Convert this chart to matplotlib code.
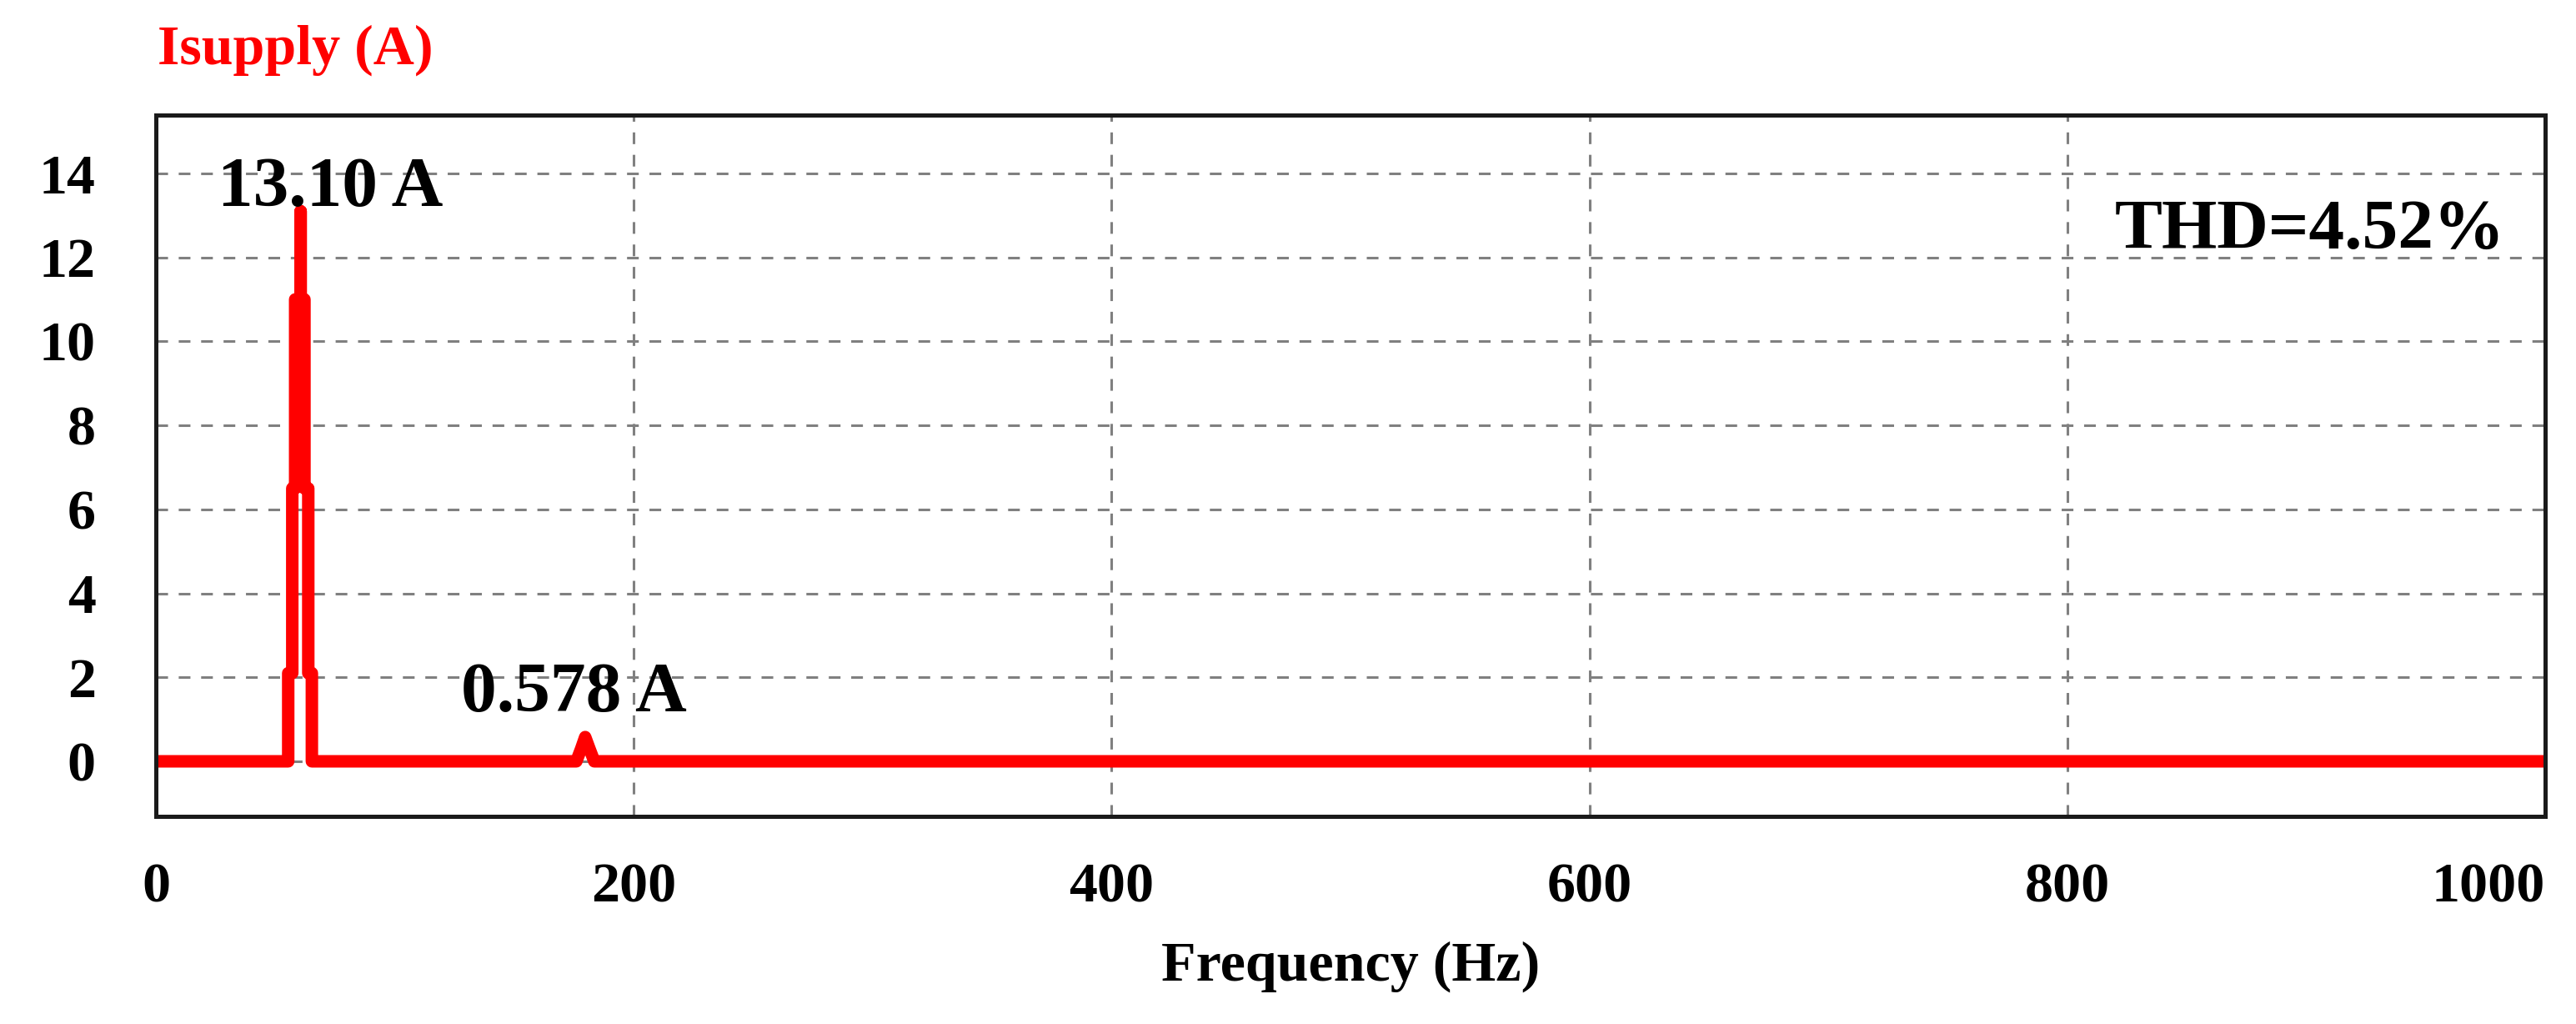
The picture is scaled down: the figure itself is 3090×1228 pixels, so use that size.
import numpy as np
import matplotlib
matplotlib.use("Agg")
import matplotlib.pyplot as plt

# FFT of supply current (Hz, A)
freq_hz = [0, 55.4, 55.4, 57.1, 57.1, 58.3, 58.3, 60.6, 60.6, 60.6, 62.2, 62.2,
           63.8, 63.8, 65.3, 65.3, 176.0, 178.0, 179.7, 181.5, 183.5, 1000]
amp_a = [0, 0, 2.1, 2.1, 6.5, 6.5, 11.0, 11.0, 13.1, 11.0, 11.0, 6.5,
         6.5, 2.1, 2.1, 0, 0, 0.3, 0.578, 0.3, 0, 0]

x_ticks = [0, 200, 400, 600, 800, 1000]
y_ticks = [0, 2, 4, 6, 8, 10, 12, 14]

fund_label = "13.10 A"
h3_label = "0.578 A"
thd_label = "THD=4.52%"

plt.rcParams['font.family'] = ['Liberation Serif', 'DejaVu Serif']
plt.rcParams['font.weight'] = 'bold'

fig = plt.figure(figsize=(30.9, 12.28), dpi=100)
ax = fig.add_axes([0.0605, 0.2028, 0.9275, 0.6848])

ax.plot(freq_hz, amp_a, color='#ff0000', lw=10.8,
        solid_joinstyle='round', solid_capstyle='butt', zorder=3)

ax.set_xlim(0, 1000)
ax.set_ylim(-1.31, 15.39)
ax.set_xticks(x_ticks)
ax.set_yticks(y_ticks)
ax.tick_params(axis='both', length=0, labelsize=49)
ax.tick_params(axis='y', pad=52)
ax.tick_params(axis='x', pad=40)
# last x label sits flush with the right edge, as in the original
ax.get_xticklabels()[-1].set_horizontalalignment('right')
for lab in ax.get_xticklabels() + ax.get_yticklabels():
    lab.set_fontweight('bold')

ax.set_axisbelow(True)
ax.grid(True, color='#808080', lw=2.2, linestyle=(0, (4.6, 4.2)))

for s in ax.spines.values():
    s.set_linewidth(3.6)
    s.set_color('#1a1a1a')
    s.set_zorder(4)

ax.set_xlabel("Frequency (Hz)", fontsize=49, fontweight='bold', labelpad=24)

ax.text(26, 13.22, fund_label, fontsize=61.5, fontweight='bold',
        ha='left', va='baseline', zorder=5)
ax.text(127.7, 1.19, h3_label, fontsize=61.5, fontweight='bold',
        ha='left', va='baseline', zorder=5)
ax.text(820, 12.21, thd_label, fontsize=61.5, fontweight='bold',
        ha='left', va='baseline', zorder=5)

fig.text(189 / 3090, 1 - 77 / 1228, "Isupply (A)", color='#ff0000',
         fontsize=49, fontweight='bold', ha='left', va='baseline')

fig.savefig("out.png", dpi=100)
